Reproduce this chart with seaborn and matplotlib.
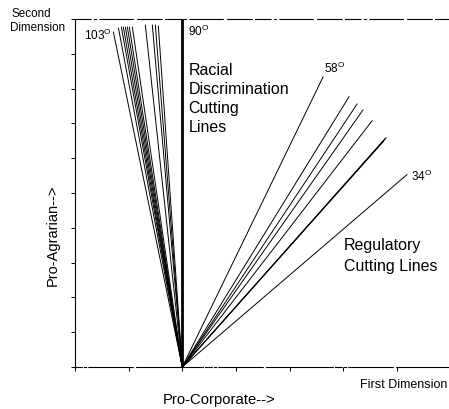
import numpy as np
import pandas as pd
import matplotlib
matplotlib.use("Agg")
import matplotlib.pyplot as plt
import seaborn as sns

# ---- data (cutting-line end points, all lines start at the origin) ----
racial_end_x = [-1.285, -1.19, -1.136, -1.099, -1.061, -1.024, -0.987, -0.931, -0.689, -0.559, -0.503, -0.447]
racial_end_y = [9.63, 9.74, 9.77, 9.77, 9.77, 9.77, 9.77, 9.77, 9.83, 9.83, 9.83, 9.80]
vertical_end_x = [0.0]
vertical_end_y = [10.0]
regulatory_end_x = [2.626, 3.11, 3.26, 3.37, 3.54, 3.76, 3.78, 3.80, 4.19]
regulatory_end_y = [8.34, 7.77, 7.56, 7.39, 7.08, 6.50, 6.56, 6.59, 5.53]

angle_labels = ["103", "90", "58", "34"]
racial_text = ["Racial", "Discrimination", "Cutting", "Lines"]
regulatory_text = ["Regulatory", "Cutting Lines"]
x_ticks = [-2, -1, 0, 1, 2, 3, 4]
y_ticks = [0, 1, 2, 3, 4, 5, 6, 7, 8, 9, 10]


def segments(xs, ys, group):
    rows = []
    for i, (x, y) in enumerate(zip(xs, ys)):
        rows.append({"x": 0.0, "y": 0.0, "id": f"{group}{i}"})
        rows.append({"x": x, "y": y, "id": f"{group}{i}"})
    return pd.DataFrame(rows)


thin = pd.concat([segments(racial_end_x, racial_end_y, "r"),
                  segments(regulatory_end_x, regulatory_end_y, "g")], ignore_index=True)
thick = segments(vertical_end_x, vertical_end_y, "v")

sns.set_theme(style="white")
plt.rcParams["font.family"] = ["Liberation Sans", "DejaVu Sans"]
plt.rcParams["text.color"] = "black"
plt.rcParams["mathtext.fontset"] = "custom"
plt.rcParams["mathtext.rm"] = "Liberation Sans"
plt.rcParams["mathtext.it"] = "Liberation Sans"

fig = plt.figure(figsize=(4.49, 4.10), dpi=100)
ax = fig.add_axes([75 / 449, 42 / 410, 374 / 449, 348 / 410])

sns.lineplot(data=thin, x="x", y="y", units="id", estimator=None, sort=False,
             color="black", linewidth=0.7, ax=ax, legend=False)
sns.lineplot(data=thick, x="x", y="y", units="id", estimator=None, sort=False,
             color="black", linewidth=2.0, ax=ax, legend=False)

ax.set_xlim(-2, 4.972)
ax.set_ylim(0, 10)
ax.set_xticks(x_ticks)
ax.set_yticks(y_ticks)
ax.tick_params(axis="both", direction="out", length=3, width=0.7, color="black",
               labelbottom=False, labelleft=False, bottom=True, left=True)
ax.set_xlabel("")
ax.set_ylabel("")
for s in ["left", "bottom", "top"]:
    ax.spines[s].set_visible(True)
    ax.spines[s].set_color("black")
    ax.spines[s].set_linewidth(0.8)
ax.spines["right"].set_visible(False)
ax.spines["top"].set_linestyle((0, (14, 3, 2, 3, 30, 4, 22, 3)))
ax.spines["bottom"].set_linestyle((0, (6, 2, 2, 2, 40, 3, 60, 2)))

# angle labels
fs_ang = 8.5
ax.text(-1.322, 9.43, angle_labels[0] + r"$^{\mathrm{O}}$", ha="right", va="baseline", fontsize=fs_ang, color="black")
ax.text(0.112, 9.54, angle_labels[1] + r"$^{\mathrm{O}}$", ha="left", va="baseline", fontsize=fs_ang, color="black")
ax.text(2.644, 8.48, angle_labels[2] + r"$^{\mathrm{O}}$", ha="left", va="baseline", fontsize=fs_ang, color="black")
ax.text(4.264, 5.37, angle_labels[3] + r"$^{\mathrm{O}}$", ha="left", va="baseline", fontsize=fs_ang, color="black")

# group labels
for i, t in enumerate(racial_text):
    ax.text(0.112, 8.42 - i * 0.548, t, ha="left", va="baseline", fontsize=11.5, color="black")
for i, t in enumerate(regulatory_text):
    ax.text(3.017, 3.39 - i * 0.60, t, ha="left", va="baseline", fontsize=11.5, color="black")

# outer labels
fig.text(12 / 449, (410 - 17) / 410, "Second", ha="left", va="baseline", fontsize=8.4, color="black")
fig.text(10 / 449, (410 - 31) / 410, "Dimension", ha="left", va="baseline", fontsize=8.4, color="black")
fig.text(447 / 449, (410 - 388) / 410, "First Dimension", ha="right", va="baseline", fontsize=9.0, color="black")
fig.text(163 / 449, (410 - 404) / 410, "Pro-Corporate-->", ha="left", va="baseline", fontsize=10.7, color="black")
fig.text(53 / 449, (410 - 235) / 410, "Pro-Agrarian-->", ha="center", va="center",
         rotation=90, fontsize=10.5, color="black")

fig.savefig("out.png", dpi=100)
